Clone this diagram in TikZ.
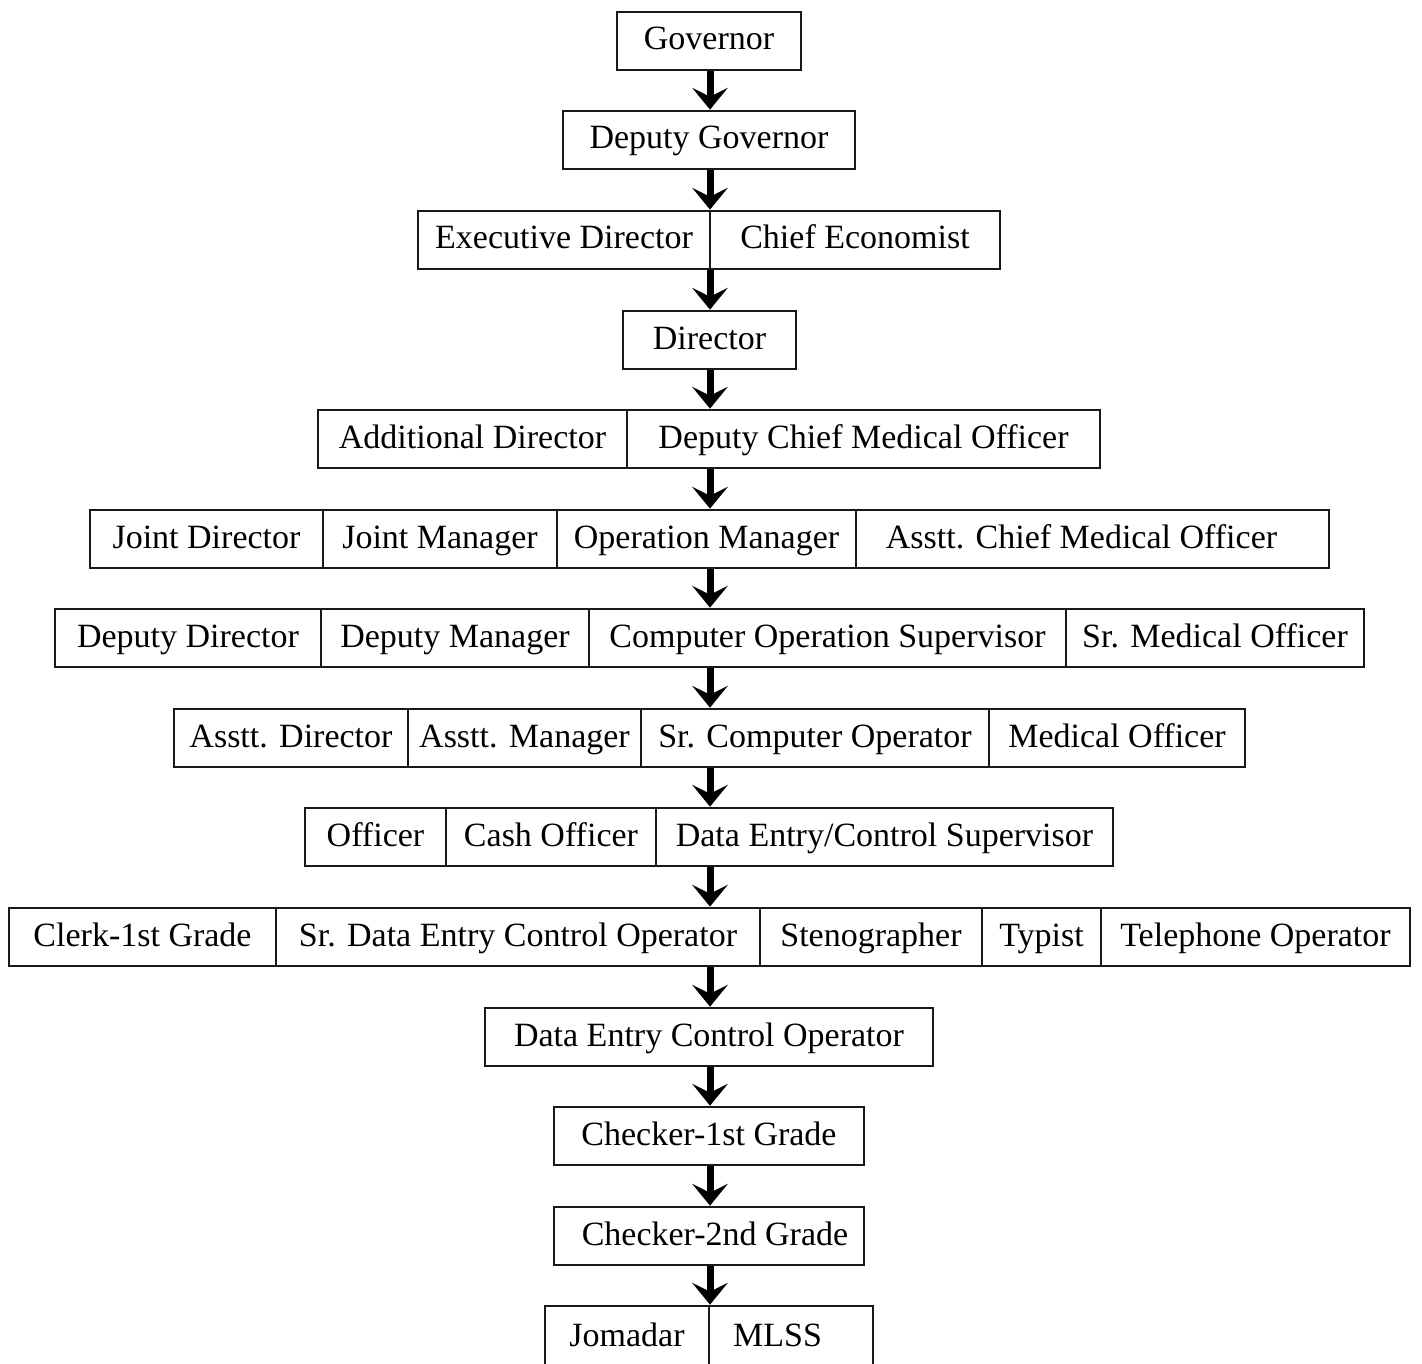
\documentclass[tikz,border=0pt]{standalone}
\usepackage{fontspec}
\setmainfont{Liberation Serif}
\usetikzlibrary{arrows.meta}
\tikzset{
  cell/.style={draw=black!90, line width=2.7pt, fill=white, minimum height=58pt, inner sep=0pt, text height=26pt, text depth=8pt, font=\fontsize{34pt}{40pt}\selectfont, anchor=center},
  arr/.style={line width=7pt, -{Stealth[length=22pt, width=36pt, inset=9pt, line width=0pt]}},
}
\newcommand\cellnode[5]{\node[cell, minimum width=#3pt-#2pt] (#1) at ({(#2+#3)/2},#4) {#5};}
\begin{document}
\begin{tikzpicture}[x=1pt,y=-1pt]
\useasboundingbox (0,0) rectangle (1422,1364);
\clip (0,0) rectangle (1422,1364);
\fill[white] (0,0) rectangle (1422,1364);
\coordinate (axis) at (710,0);
% Row 1
\cellnode{gov}{617}{801}{41}{Governor}
% Row 2
\cellnode{dgov}{563}{855}{140}{Deputy Governor}
% Row 3
\cellnode{ed}{418}{710}{240}{Executive Director}
\cellnode{ce}{710}{1000}{240}{Chief Economist}
% Row 4
\cellnode{dir}{623}{796}{340}{Director}
% Row 5
\cellnode{addir}{318}{627}{439}{Additional Director}
\cellnode{dcmo}{627}{1100}{439}{Deputy Chief Medical Officer}
% Row 6
\cellnode{jd}{90}{323}{539}{Joint Director}
\cellnode{jm}{323}{557}{539}{Joint Manager}
\cellnode{om}{557}{856}{539}{Operation Manager}
\cellnode{acmo}{856}{1329}{539}{Asstt. Chief Medical Officer\kern22pt}
% Row 7
\cellnode{dd}{55}{321}{638}{Deputy Director}
\cellnode{dm}{321}{589}{638}{Deputy Manager}
\cellnode{cos}{589}{1066}{638}{Computer Operation Supervisor}
\cellnode{smo}{1066}{1364}{638}{Sr. Medical Officer}
% Row 8
\cellnode{ad}{174}{408}{738}{Asstt. Director}
\cellnode{am}{408}{641}{738}{Asstt. Manager}
\cellnode{sco}{641}{989}{738}{Sr. Computer Operator}
\cellnode{mo}{989}{1245}{738}{Medical Officer}
% Row 9
\cellnode{off}{305}{446}{837}{Officer}
\cellnode{co}{446}{656}{837}{Cash Officer}
\cellnode{decs}{656}{1113}{837}{Data Entry/Control Supervisor}
% Row 10
\cellnode{clerk}{9}{276}{937}{Clerk-1st Grade}
\cellnode{sdeco}{276}{760}{937}{Sr. Data Entry Control Operator}
\cellnode{steno}{760}{982}{937}{Stenographer}
\cellnode{typ}{982}{1101}{937}{Typist}
\cellnode{tel}{1101}{1410}{937}{Telephone Operator}
% Row 11
\cellnode{deco}{485}{933}{1037}{Data Entry Control Operator}
% Row 12
\cellnode{chk1}{554}{864}{1136}{Checker-1st Grade}
% Row 13
\cellnode{chk2}{554}{864}{1236}{\kern12pt Checker-2nd Grade}
% Row 14
\node[cell, minimum width=164pt, minimum height=62pt] (jom) at (627,1337) {Jomadar};
\node[cell, minimum width=164pt, minimum height=62pt] (mlss) at (791,1337) {MLSS\kern27pt};
% Arrows
\draw[arr] (gov.south -| axis) -- (dgov.north -| axis);
\draw[arr] (dgov.south -| axis) -- (ed.north -| axis);
\draw[arr] (ed.south -| axis) -- (dir.north -| axis);
\draw[arr] (dir.south -| axis) -- (dcmo.north -| axis);
\draw[arr] (dcmo.south -| axis) -- (om.north -| axis);
\draw[arr] (om.south -| axis) -- (cos.north -| axis);
\draw[arr] (cos.south -| axis) -- (sco.north -| axis);
\draw[arr] (sco.south -| axis) -- (decs.north -| axis);
\draw[arr] (decs.south -| axis) -- (sdeco.north -| axis);
\draw[arr] (sdeco.south -| axis) -- (deco.north -| axis);
\draw[arr] (deco.south -| axis) -- (chk1.north -| axis);
\draw[arr] (chk1.south -| axis) -- (chk2.north -| axis);
\draw[arr] (chk2.south -| axis) -- (jom.north -| axis);
\end{tikzpicture}
\end{document}
